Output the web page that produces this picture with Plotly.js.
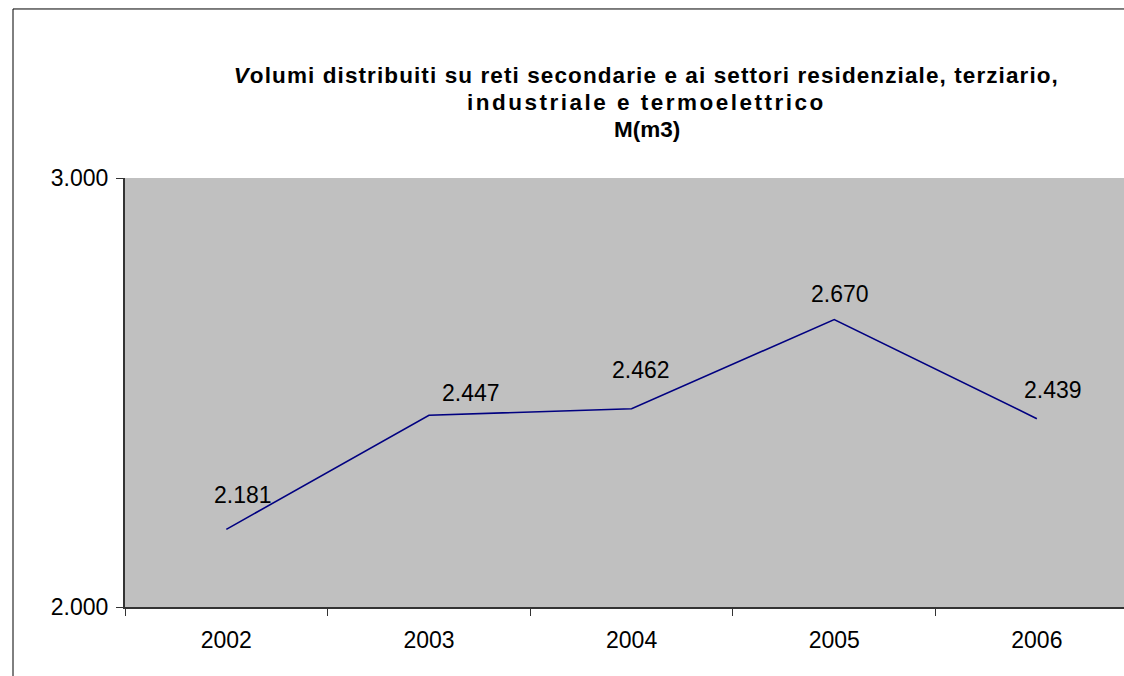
<!DOCTYPE html>
<html>
<head>
<meta charset="utf-8">
<script src="https://cdn.plot.ly/plotly-3.0.1.min.js"></script>
<style>
  html, body { margin: 0; padding: 0; background: #ffffff; }
  #chart { width: 1124px; height: 676px; }
</style>
</head>
<body>
<div id="chart"></div>
<script>
// ---- data ----
var years = ['2002', '2003', '2004', '2005', '2006'];
var volumes = [2181, 2447, 2462, 2670, 2439];
var yTickValues = [2000, 3000];
var titleLines = [
  '<i>V</i>olumi distribuiti su reti secondarie e ai settori residenziale, terziario,',
  'industriale e termoelettrico',
  'M(m3)'
];

// ---- styling (label offsets in px, not data) ----
var labelShiftX = [17, 42, 9, 6, 16];
var labelShiftY = [34, 22, 39, 26, 29];
var titleY = [1.240, 1.175, 1.112];
var titleSpacing = ['1.1px', '2.5px', '0px'];

function itNum(v) {
  return String(v).replace(/\B(?=(\d{3})+(?!\d))/g, '.');
}

var FONT = 'Liberation Sans, Arial, sans-serif';

var trace = {
  type: 'scatter',
  mode: 'lines',
  x: years,
  y: volumes,
  line: { color: '#000080', width: 1.6 },
  hoverinfo: 'x+y',
  showlegend: false
};

var annotations = [];
for (var i = 0; i < years.length; i++) {
  annotations.push({
    x: years.indexOf(years[i]), y: volumes[i], xref: 'x', yref: 'y',
    text: itNum(volumes[i]),
    showarrow: false,
    xanchor: 'center', yanchor: 'middle',
    xshift: labelShiftX[i], yshift: labelShiftY[i],
    font: { family: FONT, size: 23, color: '#000000' }
  });
}
for (var j = 0; j < titleLines.length; j++) {
  annotations.push({
    x: 0.5225, y: titleY[j], xref: 'paper', yref: 'paper',
    text: '<b>' + titleLines[j] + '</b>',
    showarrow: false, xanchor: 'center', yanchor: 'middle',
    font: { family: FONT, size: 22.5, color: '#000000' }
  });
}

var layout = {
  width: 1124,
  height: 676,
  margin: { l: 125, r: 0, t: 178, b: 69, pad: 0 },
  paper_bgcolor: '#ffffff',
  plot_bgcolor: '#c0c0c0',
  font: { family: FONT, size: 23, color: '#000000' },
  xaxis: {
    type: 'category',
    range: [-0.5, 4.43],
    showgrid: false,
    zeroline: false,
    showline: true,
    linecolor: '#333333',
    linewidth: 2,
    ticks: 'outside',
    tickson: 'boundaries',
    ticklen: 7,
    tickwidth: 1,
    tickcolor: '#333333',
    ticklabelstandoff: 11,
    tickfont: { family: FONT, size: 23, color: '#000000' },
    fixedrange: true
  },
  yaxis: {
    range: [2000, 3000],
    tickvals: yTickValues,
    ticktext: yTickValues.map(itNum),
    showgrid: true,
    gridcolor: '#808080',
    gridwidth: 2,
    zeroline: false,
    showline: true,
    linecolor: '#333333',
    linewidth: 2,
    ticks: 'outside',
    ticklen: 7,
    tickwidth: 1,
    tickcolor: '#333333',
    ticklabelstandoff: 3,
    tickfont: { family: FONT, size: 23, color: '#000000' },
    fixedrange: true
  },
  shapes: [{
    type: 'rect', xref: 'paper', yref: 'paper',
    x0: -0.1121, x1: 1.2, y0: -0.5, y1: 1.394,
    line: { color: '#000000', width: 1 },
    fillcolor: 'rgba(0,0,0,0)',
    layer: 'below'
  }],
  annotations: annotations
};

Plotly.newPlot('chart', [trace], layout, { displayModeBar: false, staticPlot: true }).then(function (gd) {
  // the original title is drawn with slightly wide letter spacing
  var texts = gd.querySelectorAll('.annotation-text');
  for (var k = years.length; k < texts.length; k++) {
    texts[k].style.letterSpacing = titleSpacing[k - years.length];
  }
});
</script>
</body>
</html>
